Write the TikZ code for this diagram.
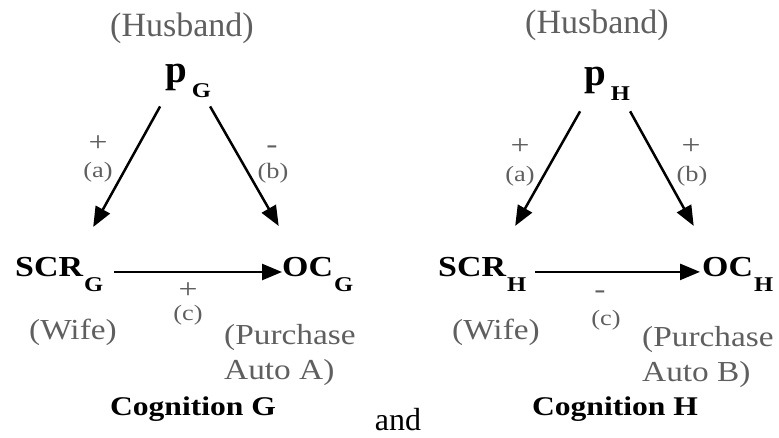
\documentclass[tikz,border=0pt]{standalone}
\usepackage{fontspec}
\setmainfont{Liberation Serif}
\newfontfamily\widefont[FakeStretch=1.15]{Liberation Serif}
\newfontfamily\smallwide[FakeStretch=1.2]{Liberation Serif}
\newfontfamily\boldwide[FakeStretch=1.17]{Liberation Serif}
\usetikzlibrary{arrows.meta, calc}
\definecolor{labelgray}{RGB}{95,95,95}
\newcommand{\subs}[1]{\raisebox{-15pt}{\boldwide\bfseries\fontsize{21}{21}\selectfont #1}}

\begin{document}
\begin{tikzpicture}[x=1pt, y=-1pt,
    husb/.style={text=labelgray, font=\rmfamily\fontsize{34}{34}\selectfont, inner sep=0},
    lbl/.style={text=labelgray, font=\widefont\fontsize{29}{35}\selectfont, inner sep=0},
    sml/.style={text=labelgray, font=\smallwide\fontsize{22}{22}\selectfont, inner sep=0},
    sgn/.style={text=labelgray, font=\smallwide\fontsize{28}{28}\selectfont, inner sep=0},
    bld/.style={font=\boldwide\bfseries\fontsize{29}{29}\selectfont, inner sep=0},
    cog/.style={font=\boldwide\bfseries\fontsize{27}{27}\selectfont, inner sep=0, anchor=base},
    arr/.style={line width=2.5pt, -{Triangle[length=20pt,width=16pt]}}]
  \useasboundingbox (0,0) rectangle (779,438);

  % Cognition G
  \node[husb] (husG) at (182,28) {(Husband)};
  \node[bld, anchor=base west] (pG) at (165,83) {{\rmfamily\fontsize{39}{39}\selectfont p}\kern5pt\subs{G}};
  \node[bld, anchor=base west] (scrG) at (15,277) {SCR\kern1pt\subs{G}};
  \node[bld, anchor=base west] (ocG) at (282,277) {OC\kern1pt\subs{G}};
  \draw[arr] ($(pG)+(-28,25)$) -- ($(scrG)+(34,-48)$);
  \draw[arr] ($(pG)+(22,25)$) -- ($(ocG)+(-39,-49)$);
  \draw[arr] ($(scrG.east)+(11,-3)$) -- ($(ocG.west)+(0,-3)$);
  \node[sgn] (plusGa) at (98,144) {+};
  \node[sml] (labGa) at (98,172) {(a)};
  \node[sgn] (minusGb) at (272,150) {-};
  \node[sml] (labGb) at (273,173) {(b)};
  \node[sgn] (plusGc) at (188,291) {+};
  \node[sml] (labGc) at (188,315) {(c)};
  \node[lbl] (wifeG) at (73,332) {(Wife)};
  \node[lbl, anchor=west, align=left] (purG) at (224,355) {(Purchase\\Auto A)};
  \node[cog] (cogG) at (193,415) {Cognition G};

  \node[font=\rmfamily\fontsize{32}{32}\selectfont, inner sep=0, anchor=base] (andw) at (398,430) {and};

  % Cognition H
  \node[husb] (husH) at (597,25) {(Husband)};
  \node[bld, anchor=base west] (pH) at (584,86) {{\rmfamily\fontsize{39}{39}\selectfont p}\kern5pt\subs{H}};
  \node[bld, anchor=base west] (scrH) at (438,277) {SCR\kern1pt\subs{H}};
  \node[bld, anchor=base west] (ocH) at (702,277) {OC\kern1pt\subs{H}};
  \draw[arr] ($(pH)+(-27,27)$) -- ($(scrH)+(33,-49)$);
  \draw[arr] ($(pH)+(23,27)$) -- ($(ocH)+(-44,-49)$);
  \draw[arr] ($(scrH.east)+(9,-3)$) -- ($(ocH.west)+(-2,-3)$);
  \node[sgn] (plusHa) at (520,147) {+};
  \node[sml] (labHa) at (520,176) {(a)};
  \node[sgn] (plusHb) at (691,147) {+};
  \node[sml] (labHb) at (692,176) {(b)};
  \node[sgn] (minusHc) at (600,295) {-};
  \node[sml] (labHc) at (606,320) {(c)};
  \node[lbl] (wifeH) at (496,332) {(Wife)};
  \node[lbl, anchor=west, align=left] (purH) at (642,357) {(Purchase\\Auto B)};
  \node[cog] (cogH) at (615,415) {Cognition H};
\end{tikzpicture}
\end{document}
